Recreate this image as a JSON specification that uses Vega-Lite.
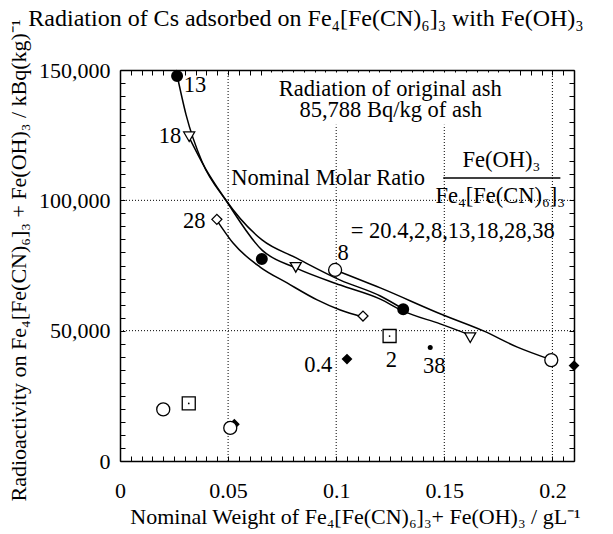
{
  "$schema": "https://vega.github.io/schema/vega-lite/v6.json",
  "width": 454,
  "height": 391,
  "autosize": {"type": "none"},
  "padding": {"left": 120, "top": 70, "right": 39, "bottom": 73},
  "background": "white",
  "title": {"text": "Radiation of Cs adsorbed on Fe₄[Fe(CN)₆]₃ with Fe(OH)₃", "font": "Liberation Serif", "fontSize": 24, "fontWeight": "normal", "color": "black", "anchor": "middle", "frame": "group", "dx": -41, "dy": 31, "baseline": "alphabetic", "offset": 0},
  "config": {
    "font": "Liberation Serif",
    "view": {"stroke": null},
    "axis": {
      "domainColor": "black", "domainWidth": 1.5, "tickColor": "black", "tickWidth": 1, "tickSize": -5,
      "labelFont": "Liberation Serif", "labelFontSize": 22, "labelColor": "black", "grid": false,
      "titleFont": "Liberation Serif", "titleFontSize": 22, "titleFontWeight": "normal", "titleColor": "black",
      "labelOverlap": false, "labelFlush": false
    }
  },
  "datasets": {
    "pts": [
      {"s": "13", "x": 0.0264, "y": 147700}, {"s": "13", "x": 0.0656, "y": 77500}, {"s": "13", "x": 0.131, "y": 58200},
      {"s": "18", "x": 0.032, "y": 124400}, {"s": "18", "x": 0.0813, "y": 74300}, {"s": "18", "x": 0.162, "y": 47300},
      {"s": "28", "x": 0.0448, "y": 92700}, {"s": "28", "x": 0.1124, "y": 55600},
      {"s": "8", "x": 0.0995, "y": 73300}, {"s": "8", "x": 0.1995, "y": 38700},
      {"s": "0", "x": 0.02, "y": 19800}, {"s": "0", "x": 0.051, "y": 12700},
      {"s": "0.4", "x": 0.105, "y": 39100}, {"s": "0.4", "x": 0.0529, "y": 14100}, {"s": "0.4", "x": 0.21, "y": 36600},
      {"s": "2", "x": 0.1247, "y": 47950}, {"s": "2", "x": 0.0318, "y": 22100},
      {"s": "38", "x": 0.1435, "y": 43500}
    ],
    "curves": [
      {"c": "13", "x": 0.0259, "y": 150000}, {"c": "13", "x": 0.0306, "y": 132700}, {"c": "13", "x": 0.038, "y": 114700}, {"c": "13", "x": 0.0486, "y": 100500}, {"c": "13", "x": 0.0657, "y": 84800}, {"c": "13", "x": 0.0815, "y": 77900}, {"c": "13", "x": 0.1019, "y": 69400}, {"c": "13", "x": 0.1204, "y": 63300}, {"c": "13", "x": 0.131, "y": 58300},
      {"c": "18", "x": 0.0319, "y": 124300}, {"c": "18", "x": 0.0394, "y": 112400}, {"c": "18", "x": 0.0486, "y": 100500}, {"c": "18", "x": 0.0657, "y": 80900}, {"c": "18", "x": 0.0815, "y": 74000}, {"c": "18", "x": 0.1019, "y": 67500}, {"c": "18", "x": 0.1204, "y": 62100}, {"c": "18", "x": 0.131, "y": 57500}, {"c": "18", "x": 0.1481, "y": 52600}, {"c": "18", "x": 0.162, "y": 48300},
      {"c": "8", "x": 0.0995, "y": 73300}, {"c": "8", "x": 0.1204, "y": 66400}, {"c": "8", "x": 0.1495, "y": 56000}, {"c": "8", "x": 0.1681, "y": 49900}, {"c": "8", "x": 0.1838, "y": 43700}, {"c": "8", "x": 0.2, "y": 38700},
      {"c": "28", "x": 0.0444, "y": 92800}, {"c": "28", "x": 0.0463, "y": 90500}, {"c": "28", "x": 0.0523, "y": 83600}, {"c": "28", "x": 0.0648, "y": 74400}, {"c": "28", "x": 0.0773, "y": 68300}, {"c": "28", "x": 0.0912, "y": 61800}, {"c": "28", "x": 0.1019, "y": 57900}, {"c": "28", "x": 0.1125, "y": 55200}
    ],
    "labels": [
      {"t": "13", "x": 0.0347, "y": 141500},
      {"t": "18", "x": 0.0231, "y": 122000},
      {"t": "28", "x": 0.0343, "y": 89400},
      {"t": "8", "x": 0.1032, "y": 77100},
      {"t": "0.4", "x": 0.0917, "y": 34100},
      {"t": "2", "x": 0.1255, "y": 36100},
      {"t": "38", "x": 0.1454, "y": 33800},
      {"t": "Radiation of original ash", "x": 0.125, "y": 139900},
      {"t": "85,788 Bq/kg of ash", "x": 0.1252, "y": 132100},
      {"t": "Nominal Molar Ratio", "x": 0.0963, "y": 105900},
      {"t": "Fe(OH)₃", "x": 0.1764, "y": 112800},
      {"t": "Fe₄[Fe(CN)₆]₃", "x": 0.1759, "y": 99000},
      {"t": "= 20.4,2,8,13,18,28,38", "x": 0.1539, "y": 85500}
    ],
    "gx": [{"v": 0.05}, {"v": 0.1}, {"v": 0.15}, {"v": 0.2}],
    "gy": [{"v": 50000}, {"v": 100000}]
  },
  "resolve": {"axis": {"x": "independent", "y": "independent"}},
  "layer": [
    {
      "data": {"name": "gx"},
      "mark": {"type": "rule", "color": "black", "strokeWidth": 1, "strokeDash": [1, 2]},
      "encoding": {
        "x": {"field": "v", "type": "quantitative", "scale": {"domain": [0, 0.21], "nice": false, "zero": false},
          "axis": {"orient": "top", "labels": false, "title": null,
            "values": [0,0.005,0.01,0.015,0.02,0.025,0.03,0.035,0.04,0.045,0.05,0.055,0.06,0.065,0.07,0.075,0.08,0.085,0.09,0.095,0.1,0.105,0.11,0.115,0.12,0.125,0.13,0.135,0.14,0.145,0.15,0.155,0.16,0.165,0.17,0.175,0.18,0.185,0.19,0.195,0.2,0.205,0.21]}}
      }
    },
    {
      "data": {"name": "gy"},
      "mark": {"type": "rule", "color": "black", "strokeWidth": 1, "strokeDash": [1, 2]},
      "encoding": {
        "y": {"field": "v", "type": "quantitative", "scale": {"domain": [0, 150000], "nice": false},
          "axis": {"orient": "right", "labels": false, "title": null,
            "values": [0,5000,10000,15000,20000,25000,30000,35000,40000,45000,50000,55000,60000,65000,70000,75000,80000,85000,90000,95000,100000,105000,110000,115000,120000,125000,130000,135000,140000,145000,150000]}}
      }
    },
    {
      "data": {"values": [{"x1": 0.068, "x2": 0.185, "y1": 129000, "y2": 149000}]},
      "mark": {"type": "rect", "fill": "white"},
      "encoding": {
        "x": {"field": "x1", "type": "quantitative", "scale": {"domain": [0, 0.21]}, "axis": null},
        "x2": {"field": "x2"},
        "y": {"field": "y1", "type": "quantitative", "scale": {"domain": [0, 150000]}, "axis": null},
        "y2": {"field": "y2"}
      }
    },
    {
      "data": {"name": "curves"},
      "mark": {"type": "line", "color": "black", "strokeWidth": 1.5, "interpolate": "monotone"},
      "encoding": {
        "x": {"field": "x", "type": "quantitative", "scale": {"domain": [0, 0.21]},
          "axis": {"orient": "bottom", "labelPadding": 24,
            "title": "Nominal Weight of Fe₄[Fe(CN)₆]₃+ Fe(OH)₃ / gL⁻¹", "titleX": 235, "titleY": 62, "titleBaseline": "alphabetic", "titleAlign": "center",
            "values": [0,0.005,0.01,0.015,0.02,0.025,0.03,0.035,0.04,0.045,0.05,0.055,0.06,0.065,0.07,0.075,0.08,0.085,0.09,0.095,0.1,0.105,0.11,0.115,0.12,0.125,0.13,0.135,0.14,0.145,0.15,0.155,0.16,0.165,0.17,0.175,0.18,0.185,0.19,0.195,0.2,0.205,0.21],
            "labelExpr": "abs(datum.value*20 - round(datum.value*20)) < 1e-6 ? format(datum.value, '~g') : ''"}},
        "y": {"field": "y", "type": "quantitative", "scale": {"domain": [0, 150000]},
          "axis": {"orient": "left", "labelPadding": 15,
            "title": "Radioactivity on Fe₄[Fe(CN)₆]₃ + Fe(OH)₃ / kBq(kg)⁻¹", "titleX": -102, "titleY": 190, "titleBaseline": "middle", "titleAlign": "center", "titleAngle": -90,
            "values": [0,5000,10000,15000,20000,25000,30000,35000,40000,45000,50000,55000,60000,65000,70000,75000,80000,85000,90000,95000,100000,105000,110000,115000,120000,125000,130000,135000,140000,145000,150000],
            "labelExpr": "datum.value % 50000 == 0 ? format(datum.value, ',') : ''"}},
        "detail": {"field": "c"}
      }
    },
    {
      "data": {"name": "pts"},
      "transform": [{"filter": "datum.s == '0.4'"}],
      "mark": {"type": "point", "shape": "diamond", "filled": true, "fill": "black", "stroke": "black", "size": 64, "opacity": 1},
      "encoding": {"x": {"field": "x", "type": "quantitative", "scale": {"domain": [0, 0.21]}, "axis": null}, "y": {"field": "y", "type": "quantitative", "scale": {"domain": [0, 150000]}, "axis": null}}
    },
    {
      "data": {"name": "pts"},
      "transform": [{"filter": "datum.s == '8' || datum.s == '0'"}],
      "mark": {"type": "point", "shape": "circle", "filled": true, "fill": "white", "stroke": "black", "strokeWidth": 1.3, "size": 169, "opacity": 1},
      "encoding": {"x": {"field": "x", "type": "quantitative", "scale": {"domain": [0, 0.21]}, "axis": null}, "y": {"field": "y", "type": "quantitative", "scale": {"domain": [0, 150000]}, "axis": null}}
    },
    {
      "data": {"name": "pts"},
      "transform": [{"filter": "datum.s == '13'"}],
      "mark": {"type": "point", "shape": "circle", "filled": true, "fill": "black", "stroke": "black", "size": 100, "opacity": 1},
      "encoding": {"x": {"field": "x", "type": "quantitative", "scale": {"domain": [0, 0.21]}, "axis": null}, "y": {"field": "y", "type": "quantitative", "scale": {"domain": [0, 150000]}, "axis": null}}
    },
    {
      "data": {"name": "pts"},
      "transform": [{"filter": "datum.s == '18'"}],
      "mark": {"type": "point", "shape": "triangle-down", "filled": true, "fill": "white", "stroke": "black", "strokeWidth": 1.3, "size": 121, "opacity": 1},
      "encoding": {"x": {"field": "x", "type": "quantitative", "scale": {"domain": [0, 0.21]}, "axis": null}, "y": {"field": "y", "type": "quantitative", "scale": {"domain": [0, 150000]}, "axis": null}}
    },
    {
      "data": {"name": "pts"},
      "transform": [{"filter": "datum.s == '28'"}],
      "mark": {"type": "point", "shape": "diamond", "filled": true, "fill": "white", "stroke": "black", "strokeWidth": 1.3, "size": 100, "opacity": 1},
      "encoding": {"x": {"field": "x", "type": "quantitative", "scale": {"domain": [0, 0.21]}, "axis": null}, "y": {"field": "y", "type": "quantitative", "scale": {"domain": [0, 150000]}, "axis": null}}
    },
    {
      "data": {"name": "pts"},
      "transform": [{"filter": "datum.s == '2'"}],
      "mark": {"type": "point", "shape": "square", "filled": true, "fill": "white", "stroke": "black", "strokeWidth": 1.3, "size": 169, "opacity": 1},
      "encoding": {"x": {"field": "x", "type": "quantitative", "scale": {"domain": [0, 0.21]}, "axis": null}, "y": {"field": "y", "type": "quantitative", "scale": {"domain": [0, 150000]}, "axis": null}}
    },
    {
      "data": {"name": "pts"},
      "transform": [{"filter": "datum.s == '2'"}],
      "mark": {"type": "point", "shape": "circle", "filled": true, "fill": "black", "size": 3, "opacity": 1},
      "encoding": {"x": {"field": "x", "type": "quantitative", "scale": {"domain": [0, 0.21]}, "axis": null}, "y": {"field": "y", "type": "quantitative", "scale": {"domain": [0, 150000]}, "axis": null}}
    },
    {
      "data": {"name": "pts"},
      "transform": [{"filter": "datum.s == '38'"}],
      "mark": {"type": "point", "shape": "circle", "filled": true, "fill": "black", "size": 25, "opacity": 1},
      "encoding": {"x": {"field": "x", "type": "quantitative", "scale": {"domain": [0, 0.21]}, "axis": null}, "y": {"field": "y", "type": "quantitative", "scale": {"domain": [0, 150000]}, "axis": null}}
    },
    {
      "data": {"name": "labels"},
      "mark": {"type": "text", "font": "Liberation Serif", "fontSize": 22.5, "color": "black", "align": "center", "baseline": "alphabetic"},
      "encoding": {"x": {"field": "x", "type": "quantitative", "scale": {"domain": [0, 0.21]}, "axis": null}, "y": {"field": "y", "type": "quantitative", "scale": {"domain": [0, 150000]}, "axis": null}, "text": {"field": "t"}}
    },
    {
      "data": {"values": [{"x1": 0.1495, "x2": 0.2037, "y": 108600}]},
      "mark": {"type": "rule", "color": "black", "strokeWidth": 1.5},
      "encoding": {"x": {"field": "x1", "type": "quantitative", "scale": {"domain": [0, 0.21]}, "axis": null}, "x2": {"field": "x2"}, "y": {"field": "y", "type": "quantitative", "scale": {"domain": [0, 150000]}, "axis": null}}
    }
  ]
}
